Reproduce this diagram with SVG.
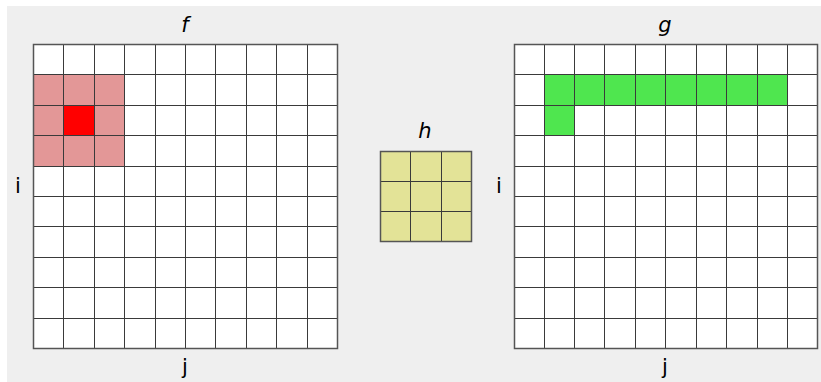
<svg xmlns="http://www.w3.org/2000/svg" width="821" height="382" viewBox="0 0 821 382">
<defs>
<style>
.lbl{font-family:"DejaVu Sans",sans-serif;font-size:21px;fill:#000;text-anchor:middle}
.it{font-style:italic}
.gl{stroke:#3a3a3a;stroke-width:1;fill:none}
.bd{stroke:#555;stroke-width:1.5;fill:none}
</style>
</defs>
<rect x="0" y="0" width="821" height="382" fill="#ffffff"/>
<rect x="7" y="6" width="814" height="376" fill="#efefef"/>

<g id="f">
<rect x="33.5" y="44.5" width="304" height="304" fill="#ffffff"/>
<rect x="33.5" y="74.5" width="91" height="92" fill="#e39797"/>
<rect x="63.5" y="105.5" width="31" height="30" fill="#ff0000"/>
<path class="gl" d="M63.5 44.5V348.5M94.5 44.5V348.5M124.5 44.5V348.5M155.5 44.5V348.5M185.5 44.5V348.5M215.5 44.5V348.5M246.5 44.5V348.5M276.5 44.5V348.5M307.5 44.5V348.5M33.5 74.5H337.5M33.5 105.5H337.5M33.5 135.5H337.5M33.5 166.5H337.5M33.5 196.5H337.5M33.5 226.5H337.5M33.5 257.5H337.5M33.5 287.5H337.5M33.5 318.5H337.5"/>
<rect x="33.5" y="44.5" width="304" height="304" class="bd"/>
<text class="lbl it" x="185" y="32">f</text>
<text class="lbl" x="18" y="193">i</text>
<text class="lbl" x="185" y="374">j</text>
</g>

<g id="h">
<rect x="380.5" y="151.5" width="91" height="90" fill="#e3e397"/>
<path class="gl" d="M410.5 151.5V241.5M441.5 151.5V241.5M380.5 181.5H471.5M380.5 211.5H471.5"/>
<rect x="380.5" y="151.5" width="91" height="90" class="bd"/>
<text class="lbl it" x="425" y="138">h</text>
</g>

<g id="g">
<rect x="514.5" y="44.5" width="303" height="304" fill="#ffffff"/>
<rect x="544.5" y="74.5" width="243" height="31" fill="#4fe64f"/>
<rect x="544.5" y="105.5" width="30" height="30" fill="#4fe64f"/>
<path class="gl" d="M544.5 44.5V348.5M574.5 44.5V348.5M604.5 44.5V348.5M635.5 44.5V348.5M665.5 44.5V348.5M696.5 44.5V348.5M726.5 44.5V348.5M757.5 44.5V348.5M787.5 44.5V348.5M514.5 74.5H817.5M514.5 105.5H817.5M514.5 135.5H817.5M514.5 166.5H817.5M514.5 196.5H817.5M514.5 226.5H817.5M514.5 257.5H817.5M514.5 287.5H817.5M514.5 318.5H817.5"/>
<rect x="514.5" y="44.5" width="303" height="304" class="bd"/>
<text class="lbl it" x="665" y="32">g</text>
<text class="lbl" x="499" y="193">i</text>
<text class="lbl" x="665" y="374">j</text>
</g>
</svg>
